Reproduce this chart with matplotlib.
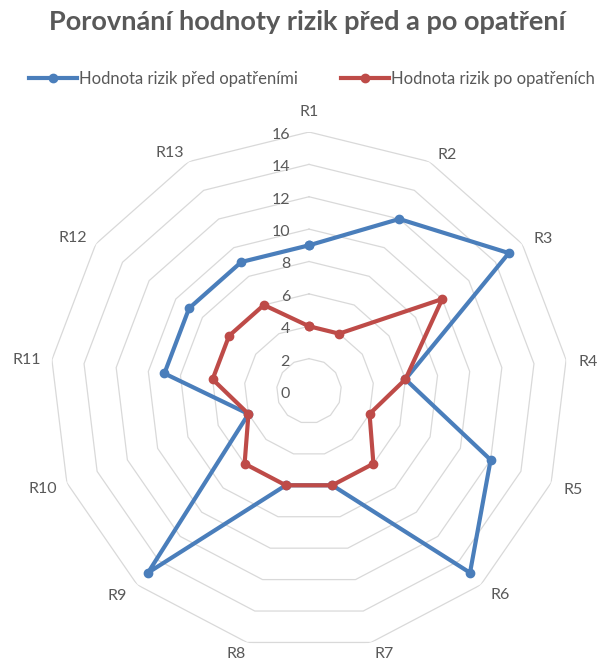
import numpy as np
import matplotlib
matplotlib.use("Agg")
import matplotlib.pyplot as plt
import matplotlib.transforms as mtransforms

plt.rcParams['font.family'] = ['Lato', 'DejaVu Sans']

categories = ["R1", "R2", "R3", "R4", "R5", "R6", "R7", "R8", "R9", "R10", "R11", "R12", "R13"]
pred_opatrenimi = [9, 12, 15, 6, 12, 15, 6, 6, 15, 4, 9, 9, 9]
po_opatrenich = [4, 4, 10, 6, 4, 6, 6, 6, 6, 4, 6, 6, 6]
r_ticks = [0, 2, 4, 6, 8, 10, 12, 14, 16]

title = "Porovnání hodnoty rizik před a po opatření"
label_pred = "Hodnota rizik před opatřeními"
label_po = "Hodnota rizik po opatřeních"

# pixel nudges of the category labels away from the outer ring (screen x, screen y)
label_nudge = [(0, -20), (18, -7), (21, -5), (22, 2), (22, 7), (19, 10), (13, 12),
               (-11, 12), (-20, 11), (-24, 6), (-25, 0), (-23, -6), (-19, -9)]

text_col = "#595959"
grid_col = "#d9d9d9"
blue = "#4a7ebb"
red = "#be4b48"

n = len(categories)
angles = np.linspace(0, 2 * np.pi, n, endpoint=False)
angles_closed = np.append(angles, angles[0])

fig = plt.figure(figsize=(6.09, 6.64), dpi=100)
ax = fig.add_axes([0.0821, 0.0211, 0.8506, 0.7801], projection='polar')
ax.set_theta_zero_location('N')
ax.set_theta_direction(-1)
ax.set_ylim(0, 16)
ax.grid(False)
ax.spines['polar'].set_visible(False)
ax.set_xticks([])
ax.set_yticks([])
ax.patch.set_alpha(0)

# polygon gridlines like Excel
for r in r_ticks[1:]:
    ax.plot(angles_closed, [r] * (n + 1), color=grid_col, lw=0.9, zorder=1)

# radial value labels left of the R1 axis
off = mtransforms.offset_copy(ax.transData, fig=fig, x=-19, y=-3, units='dots')
for r in r_ticks:
    ax.text(0, r, str(r), transform=off, ha='right', va='center',
            fontsize=11.5, color=text_col)

# category labels
for a, c, (dx, dy) in zip(angles, categories, label_nudge):
    tr = mtransforms.offset_copy(ax.transData, fig=fig, x=dx, y=-dy, units='dots')
    ax.text(a, 16, c, transform=tr, ha='center', va='center',
            fontsize=11.5, color=text_col)

def closed(v):
    return list(v) + [v[0]]

ax.plot(angles_closed, closed(pred_opatrenimi), color=blue, lw=3, marker='o',
        ms=6, label=label_pred, zorder=3)
ax.plot(angles_closed, closed(po_opatrenich), color=red, lw=3, marker='o',
        ms=6, label=label_po, zorder=4)

fig.text(0.505, 0.967, title, ha='center', va='center', fontsize=19.5,
         fontweight='bold', color=text_col)
fig.legend(loc='center', bbox_to_anchor=(0.512, 0.881), ncol=2, frameon=False,
           fontsize=12, handlelength=2.9, handletextpad=0.1, columnspacing=2.6,
           labelcolor=text_col, borderpad=0, borderaxespad=0)

fig.savefig("out.png", dpi=100)
